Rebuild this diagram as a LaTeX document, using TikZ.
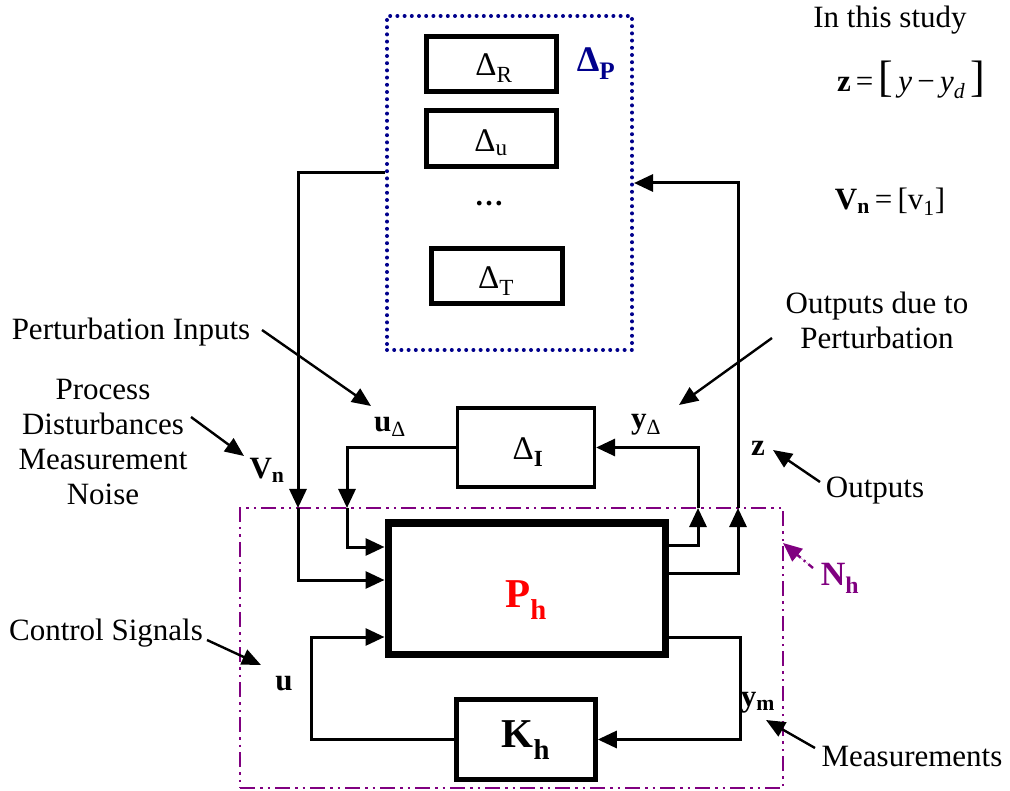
\documentclass[tikz,border=0pt]{standalone}
\usepackage{fontspec}
\setmainfont{Liberation Serif}
\usetikzlibrary{arrows.meta}
\definecolor{navyb}{RGB}{0,0,140}
\definecolor{purp}{RGB}{128,0,128}
\definecolor{redp}{RGB}{255,0,0}
\begin{document}
\begin{tikzpicture}[x=1pt,y=-1pt,
  conn/.style={line width=3pt},
  tip/.style={-{Triangle[length=19pt,width=17pt]}},
  ann/.style={line width=2.4pt,-{Triangle[length=19pt,width=16pt]}},
  blk/.style={draw, inner sep=0pt, line width=4.6pt},
  lbl/.style={inner sep=0pt, font=\fontsize{31}{36}\selectfont},
  dlbl/.style={inner sep=0pt, font=\fontsize{33}{34}\selectfont},
  blbl/.style={inner sep=0pt, font=\fontsize{31}{36}\selectfont\bfseries},
]
\useasboundingbox (0,0) rectangle (1010,791);

% Delta_P dotted block
\node[draw=navyb, line width=4pt, dash pattern=on 0pt off 7.2pt, line cap=round,
      minimum width=245pt, minimum height=334pt, inner sep=0pt] (dp) at (509.5,183) {};
\node[blk, minimum width=130pt, minimum height=55pt] (dR) at (491.5,64) {};
\node[blk, minimum width=130pt, minimum height=56pt] (du) at (491.5,138.5) {};
\node[blk, minimum width=131pt, minimum height=55pt] (dT) at (497,276) {};
\node[dlbl] (dRl) at (494,68) {Δ\textsubscript{R}};
\node[dlbl] (dul) at (491,143) {Δ\textsubscript{u}};
\node[dlbl] (dTl) at (496,281) {Δ\textsubscript{T}};
\node[dlbl, font=\fontsize{29}{30}\selectfont\bfseries] (dots) at (489,204) {…};
\node[blbl, text=navyb, font=\fontsize{36}{38}\selectfont\bfseries] (dPl) at (596,64) {Δ\textsubscript{P}};

% Delta_I
\node[draw, inner sep=0pt, line width=3.2pt, minimum width=137pt, minimum height=79pt] (dI) at (526,447.5) {};
\node[dlbl] (dIl) at (528,452) {Δ\textsubscript{\textbf{I}}};

% N_h dash-dot box
\node[draw=purp, line width=2.4pt, dash pattern=on 15pt off 5pt on 2.5pt off 5pt on 2.5pt off 5pt,
      minimum width=543pt, minimum height=280pt, inner sep=0pt] (Nh) at (511.5,648) {};

% P_h and K_h
\node[draw, inner sep=0pt, line width=7pt, minimum width=277pt, minimum height=131pt] (Ph) at (526.5,588.5) {};
\node[inner sep=0pt, text=redp, font=\fontsize{41}{44}\selectfont\bfseries] (Phl) at (526,600) {P\textsubscript{h}};
\node[draw, inner sep=0pt, line width=4.6pt, minimum width=139pt, minimum height=80pt] (Kh) at (526,739.5) {};
\node[inner sep=0pt, font=\fontsize{41}{44}\selectfont\bfseries] (Khl) at (526,740) {K\textsubscript{h}};

% routing coordinates
\coordinate (vnA) at (298,173);
\coordinate (vnB) at (298,508);
\coordinate (vnC) at (298,580);
\coordinate (zA) at (738,573);
\coordinate (zB) at (738,508);
\coordinate (zC) at (738,183);
\coordinate (uA) at (347,448);
\coordinate (uB) at (347,508);
\coordinate (uC) at (347,547);
\coordinate (yA) at (698,545);
\coordinate (yB) at (698,508);
\coordinate (yC) at (698,447.5);
\coordinate (cA) at (311,739.5);
\coordinate (cB) at (311,637);
\coordinate (mA) at (740,637);
\coordinate (mB) at (740,739.5);

% connectors
\draw[conn,tip] (dp.west |- vnA) -- (vnA) -- (vnB);
\draw[conn,tip] (vnB) -- (vnC) -- (Ph.west |- vnC);
\draw[conn,tip] (Ph.east |- zA) -- (zA) -- (zB);
\draw[conn,tip] (zB) -- (zC) -- (dp.east |- zC);
\draw[conn,tip] (dI.west |- uA) -- (uA) -- (uB);
\draw[conn,tip] (uB) -- (uC) -- (Ph.west |- uC);
\draw[conn,tip] (Ph.east |- yA) -- (yA) -- (yB);
\draw[conn,tip] (yB) -- (yC) -- (dI.east |- yC);
\draw[conn,tip] (Kh.west |- cA) -- (cA) -- (cB) -- (Ph.west |- cB);
\draw[conn,tip] (Ph.east |- mA) -- (mA) -- (mB) -- (Kh.east |- mB);

% signal labels
\node[blbl] (Vnl) at (267,470) {V\textsubscript{n}};
\node[blbl] (uDl) at (390,427) {u\textsubscript{\mdseries Δ}};
\node[blbl] (yDl) at (646,425) {y\textsubscript{\mdseries Δ}};
\node[blbl] (zl) at (758,448) {z};
\node[blbl] (ul) at (284,684) {u};
\node[blbl] (yml) at (758,703) {y\textsubscript{m}};
\node[blbl, text=purp, font=\fontsize{34}{36}\selectfont\bfseries] (Nhl) at (840,578) {N\textsubscript{h}};

% annotation texts
\node[lbl] (tPI) at (131,332) {Perturbation Inputs};
\node[lbl, align=center, font=\fontsize{31}{35}\selectfont] (tPD) at (103,442) {Process\\Disturbances\\Measurement\\Noise};
\node[lbl, align=center, font=\fontsize{31}{35}\selectfont] (tOP) at (877,320) {Outputs due to\\Perturbation};
\node[lbl] (tO) at (875,491) {Outputs};
\node[lbl] (tCS) at (106,633) {Control Signals};
\node[lbl] (tM) at (912,757) {Measurements};
\node[lbl] (tStudy) at (890,20) {In this study};
\node[lbl] (tZ) at (911,80) {\textbf{z}\,=\,{\fontsize{44}{44}\selectfont[}\,\textit{y}\,−\,\textit{y}\textsubscript{\textit{d}}\,{\fontsize{44}{44}\selectfont]}};
\node[lbl] (tV) at (890,202) {\textbf{V}\textsubscript{\textbf{n}}\,=\,[v\textsubscript{1}]};

% annotation arrows
\coordinate (aPI1) at (262,330);  \coordinate (aPI2) at (371,406);
\coordinate (aPD1) at (191,417);  \coordinate (aPD2) at (244,456);
\coordinate (aOP1) at (772,338);  \coordinate (aOP2) at (679,405);
\coordinate (aO1) at (820,482);   \coordinate (aO2) at (773,450);
\coordinate (aCS1) at (207,640);  \coordinate (aCS2) at (261,665);
\coordinate (aM1) at (815,748);   \coordinate (aM2) at (766,720);
\coordinate (aN1) at (813,568);   \coordinate (aN2) at (783,543);
\draw[ann] (aPI1) -- (aPI2);
\draw[ann] (aPD1) -- (aPD2);
\draw[ann] (aOP1) -- (aOP2);
\draw[ann] (aO1) -- (aO2);
\draw[ann] (aCS1) -- (aCS2);
\draw[ann] (aM1) -- (aM2);
\draw[ann, draw=purp, fill=purp, dash pattern=on 6pt off 4pt on 2pt off 4pt] (aN1) -- (aN2);
\end{tikzpicture}
\end{document}
